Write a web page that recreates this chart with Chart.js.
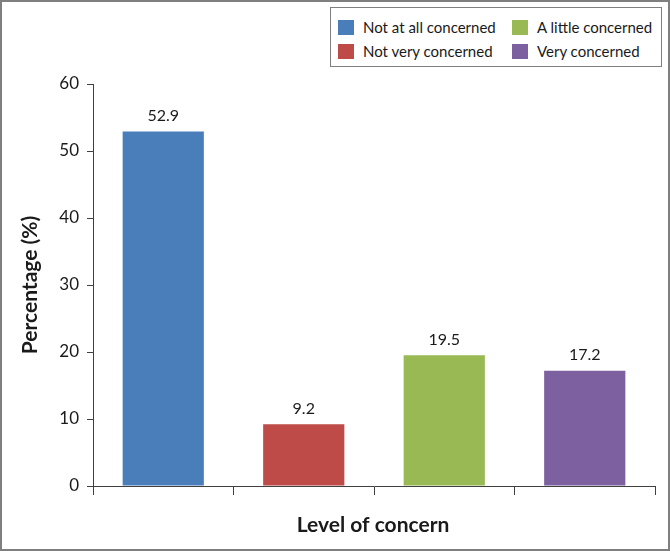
<!DOCTYPE html>
<html>
<head>
<meta charset="utf-8">
<script src="https://cdn.jsdelivr.net/npm/chart.js@4"></script>
<style>
  body { margin: 0; background: #fff; }
  #wrap { position: relative; width: 670px; height: 551px; }
  #legend {
    position: absolute; left: 330px; top: 7px; width: 332px; height: 60px;
    box-sizing: border-box; border: 1px solid #7f7f7f; background: #fff;
    display: grid; grid-template-columns: 174px auto; grid-auto-rows: 24px;
    padding: 12px 0 0 7px; font-family: Lato, sans-serif; font-size: 15px; color: #1a1a1a;
  }
  .item { display: flex; align-items: center; height: 14px; }
  .box { width: 16px; height: 15px; margin-right: 9px; }
</style>
</head>
<body>
<div id="wrap">
  <canvas id="chart" width="670" height="551"></canvas>
  <div id="legend"></div>
</div>
<script>
// values
const categories = ['Not at all concerned', 'Not very concerned', 'A little concerned', 'Very concerned'];
const percentages = [52.9, 9.2, 19.5, 17.2];
const barColors = ['#4a7ebb', '#be4b48', '#98b954', '#7d60a0'];
const yTicks = [0, 10, 20, 30, 40, 50, 60];
const yTitle = 'Percentage (%)';
const xTitle = 'Level of concern';

const axisColor = '#404040';
const textColor = '#1a1a1a';

// legend in the order of the picture: column by column
const legendOrder = [0, 2, 1, 3];
const legendDiv = document.getElementById('legend');
legendOrder.forEach(i => {
    const item = document.createElement('div');
    item.className = 'item';
    item.innerHTML = `<span class="box" style="background:${barColors[i]}"></span>${categories[i]}`;
    legendDiv.appendChild(item);
});

const frame = {
    id: 'frame',
    beforeDraw(chart) {
        const ctx = chart.ctx;
        ctx.save();
        ctx.fillStyle = '#fff';
        ctx.fillRect(0, 0, chart.width, chart.height);
        ctx.strokeStyle = '#7f7f7f';
        ctx.lineWidth = 2;
        ctx.strokeRect(1, 1, chart.width - 2, chart.height - 2);
        ctx.restore();
    }
};

const labels = {
    id: 'labels',
    afterDatasetsDraw(chart) {
        const ctx = chart.ctx;
        const area = chart.chartArea;
        ctx.save();
        ctx.fillStyle = textColor;
        ctx.textAlign = 'center';
        ctx.font = '16px Lato, sans-serif';
        chart.getDatasetMeta(0).data.forEach((bar, i) => {
            ctx.fillText(percentages[i].toFixed(1), bar.x, bar.y - 10.5);
        });
        // axis titles
        ctx.font = 'bold 21px Lato, sans-serif';
        ctx.fillText(xTitle, (area.left + area.right) / 2 - 1, 532);
        ctx.translate(37, (area.top + area.bottom) / 2);
        ctx.rotate(-Math.PI / 2);
        ctx.fillText(yTitle, 0, 0);
        ctx.restore();
    }
};

new Chart(document.getElementById('chart'), {
    type: 'bar',
    data: {
        labels: categories,
        datasets: [{
            data: percentages,
            backgroundColor: barColors,
            categoryPercentage: 1,
            barPercentage: 0.578
        }]
    },
    options: {
        responsive: false,
        animation: false,
        layout: { padding: { left: 10, right: 15, top: 84, bottom: 0 } },
        plugins: {
            legend: { display: false },
            tooltip: { enabled: false }
        },
        scales: {
            x: {
                grid: { drawOnChartArea: false, tickLength: 9, color: axisColor, offset: true },
                border: { color: axisColor },
                ticks: { display: false },
                afterFit: s => { s.height = 65; }
            },
            y: {
                min: yTicks[0],
                max: yTicks[yTicks.length - 1],
                afterBuildTicks: s => { s.ticks = yTicks.map(v => ({ value: v })); },
                ticks: { padding: 8, color: textColor, font: { family: 'Lato, sans-serif', size: 17 } },
                grid: { drawOnChartArea: false, tickLength: 6, color: axisColor },
                border: { color: axisColor },
                afterFit: s => { s.width = 83; }
            }
        }
    },
    plugins: [frame, labels]
});
</script>
</body>
</html>
